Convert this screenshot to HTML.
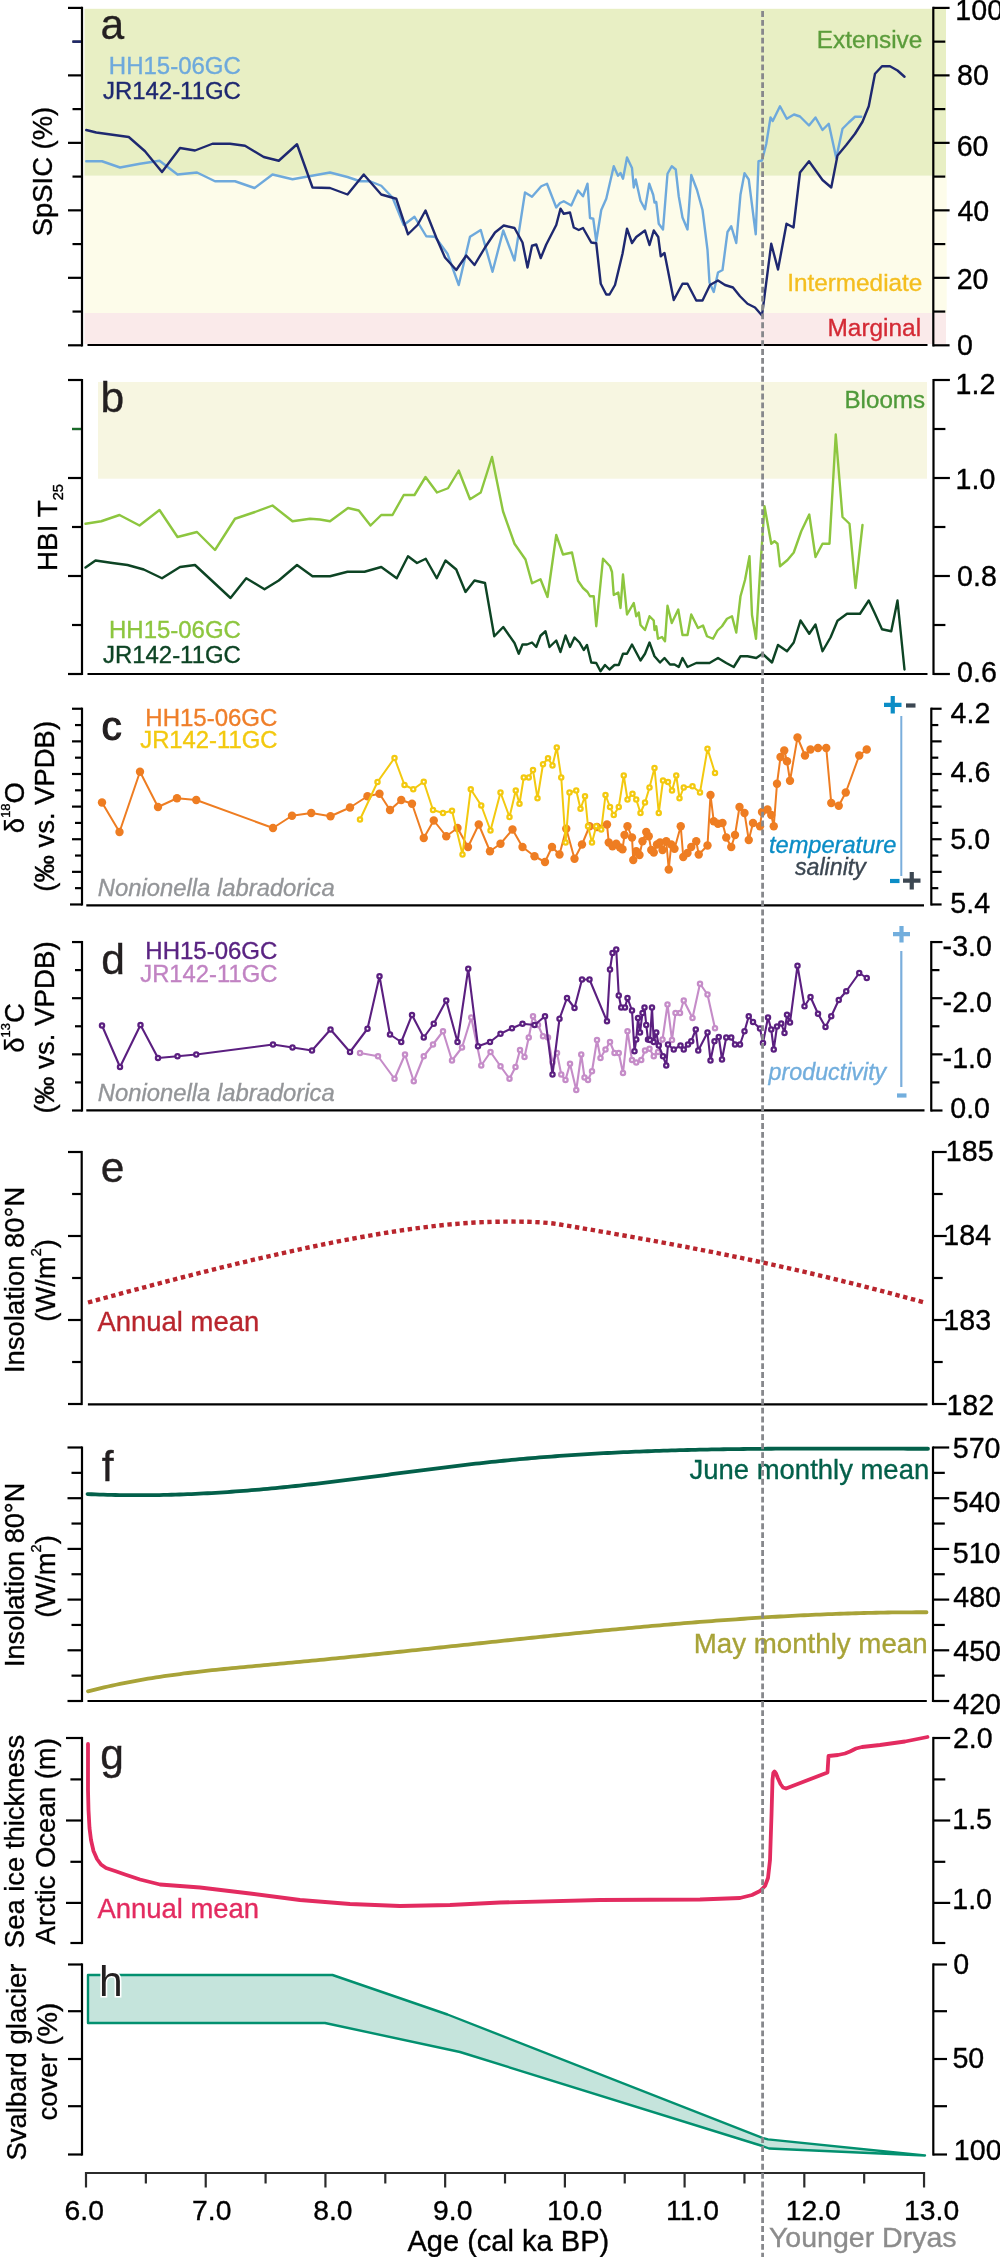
<!DOCTYPE html>
<html><head><meta charset="utf-8"><style>
html,body{margin:0;padding:0;background:#fff;}
svg{display:block;will-change:transform;}
</style></head><body>
<svg width="1000" height="2257" viewBox="0 0 1000 2257" font-family='"Liberation Sans", sans-serif'>
<rect width="1000" height="2257" fill="#fff"/>
<rect x="84.5" y="8.8" width="861.5" height="167" fill="#e8efc4"/>
<rect x="84.5" y="175.8" width="862.2" height="137.2" fill="#fdfcea"/>
<rect x="84.5" y="313" width="861.5" height="31" fill="#faeaea"/>
<line x1="82.00" y1="6.80" x2="82.00" y2="346.40" stroke="#000" stroke-width="2.2" />
<line x1="933.30" y1="6.80" x2="933.30" y2="346.40" stroke="#000" stroke-width="2.2" />
<line x1="68.00" y1="345.30" x2="82.00" y2="345.30" stroke="#000" stroke-width="2.2" />
<line x1="933.30" y1="345.30" x2="949.60" y2="345.30" stroke="#000" stroke-width="2.2" />
<line x1="72.50" y1="311.56" x2="82.00" y2="311.56" stroke="#000" stroke-width="2.2" />
<line x1="933.30" y1="311.56" x2="945.30" y2="311.56" stroke="#000" stroke-width="2.2" />
<line x1="68.00" y1="277.82" x2="82.00" y2="277.82" stroke="#000" stroke-width="2.2" />
<line x1="933.30" y1="277.82" x2="949.60" y2="277.82" stroke="#000" stroke-width="2.2" />
<line x1="72.50" y1="244.08" x2="82.00" y2="244.08" stroke="#000" stroke-width="2.2" />
<line x1="933.30" y1="244.08" x2="945.30" y2="244.08" stroke="#000" stroke-width="2.2" />
<line x1="68.00" y1="210.34" x2="82.00" y2="210.34" stroke="#000" stroke-width="2.2" />
<line x1="933.30" y1="210.34" x2="949.60" y2="210.34" stroke="#000" stroke-width="2.2" />
<line x1="72.50" y1="176.60" x2="82.00" y2="176.60" stroke="#000" stroke-width="2.2" />
<line x1="933.30" y1="176.60" x2="945.30" y2="176.60" stroke="#000" stroke-width="2.2" />
<line x1="68.00" y1="142.86" x2="82.00" y2="142.86" stroke="#000" stroke-width="2.2" />
<line x1="933.30" y1="142.86" x2="949.60" y2="142.86" stroke="#000" stroke-width="2.2" />
<line x1="72.50" y1="109.12" x2="82.00" y2="109.12" stroke="#000" stroke-width="2.2" />
<line x1="933.30" y1="109.12" x2="945.30" y2="109.12" stroke="#000" stroke-width="2.2" />
<line x1="68.00" y1="75.38" x2="82.00" y2="75.38" stroke="#000" stroke-width="2.2" />
<line x1="933.30" y1="75.38" x2="949.60" y2="75.38" stroke="#000" stroke-width="2.2" />
<line x1="72.50" y1="41.64" x2="82.00" y2="41.64" stroke="#000" stroke-width="2.2" />
<line x1="933.30" y1="41.64" x2="945.30" y2="41.64" stroke="#000" stroke-width="2.2" />
<line x1="68.00" y1="7.90" x2="82.00" y2="7.90" stroke="#000" stroke-width="2.2" />
<line x1="933.30" y1="7.90" x2="949.60" y2="7.90" stroke="#000" stroke-width="2.2" />
<line x1="72.40" y1="41.64" x2="80.90" y2="41.64" stroke="#1e2870" stroke-width="2.2" />
<line x1="87.50" y1="345.00" x2="927.50" y2="345.00" stroke="#000" stroke-width="2.2" />
<text x="955.36" y="19.73" font-size="28.60" stroke="#000" stroke-width="0.35">100</text>
<text x="957.03" y="84.93" font-size="28.60" stroke="#000" stroke-width="0.35">80</text>
<text x="956.67" y="155.63" font-size="28.60" stroke="#000" stroke-width="0.35">60</text>
<text x="957.46" y="220.83" font-size="28.60" stroke="#000" stroke-width="0.35">40</text>
<text x="956.67" y="289.13" font-size="28.60" stroke="#000" stroke-width="0.35">20</text>
<text x="956.96" y="355.13" font-size="28.60" stroke="#000" stroke-width="0.35">0</text>
<text x="100.39" y="39.24" font-size="42.50" fill="#231f20"   stroke="#231f20" stroke-width="0.35">a</text>
<text x="108.82" y="73.74" font-size="24.00" fill="#6ea9dc"   stroke="#6ea9dc" stroke-width="0.35">HH15-06GC</text>
<text x="102.94" y="99.30" font-size="23.94" fill="#1e2870"   stroke="#1e2870" stroke-width="0.35">JR142-11GC</text>
<text x="816.74" y="47.65" font-size="24.35" fill="#5b9c3b"   stroke="#5b9c3b" stroke-width="0.35">Extensive</text>
<text x="787.25" y="291.37" font-size="24.30" fill="#f4be1f"   stroke="#f4be1f" stroke-width="0.35">Intermediate</text>
<text x="827.49" y="336.21" font-size="24.42" fill="#d42a35"   stroke="#d42a35" stroke-width="0.35">Marginal</text>
<text transform="translate(52.20,236.23) rotate(-90)" font-size="27.40" fill="#000" stroke="#000" stroke-width="0.35" >SpSIC (%)</text>
<polyline points="86.25,161.25 102,161.25 120,167.50 140,163.75 159.50,160.75 177.50,174.50 197,172.50 215,181.25 235,181.25 254.50,188 272.50,174.50 292.50,179.25 330,172.50 347.50,177 360,181.25 370,181.25 381.25,185.75 392.50,197.50 403.75,225 414.50,216.75 426.25,236.25 435,236.75 447.50,253.75 458.75,285 470,236.75 480.75,230 492.50,271.75 503.25,230.50 514.50,260.50 525,192.50 532,196.75 541.25,186.25 547,183.75 556.25,207.50 560,203 563.75,201.25 571.25,205.50 578,190.50 583,196.25 587.50,183.75 590,218 593.25,218.75 596.25,241.25 601.25,210 606.25,198.75 613.75,166.25 618,175.75 620.50,173 623,178.75 627,157.50 632,168 633.75,187.50 635.75,179.50 640.50,200.75 645,209.25 649.25,183.75 653.25,195 654.50,202.50 656.25,202 658.75,223.75 663,229.50 667.50,173.75 671.75,166.25 675.75,169.50 678.75,196.25 682.50,217.50 687.50,229.50 691.25,175 697,190 702.50,210 707.50,250 709.50,282.50 713.75,292 718,272.50 722.50,270 727.50,232 731.25,226.25 736.25,243 740.50,194.50 744.50,173.25 748.75,179.50 755.75,234.25 758.50,161.25 762,160.50 766.25,144 770.50,117.50 772.75,121 780,106.25 786.75,118.75 794,114.50 800,116.50 809,125.50 815.50,117.50 822.50,130 828.75,123.75 836.25,158 842.50,128.75 848.75,122.50 855,116.75 861.25,116.75" fill="none" stroke="#6ea9dc" stroke-width="2.4" stroke-linejoin="round" stroke-linecap="round" />
<polyline points="86.25,130 96.25,132.50 128.75,137 145,151.25 162,172 180,148 195,150.50 212.50,143.75 230,143.75 245,145.75 263.75,157 278.75,160.75 297,144.25 312.50,187.50 330,188 347.50,194.50 363.75,174.50 381.25,194.50 396.25,198.75 408,234.25 417.50,225 425.50,210.50 436.25,237.50 445,257.50 456.25,270 466.25,255.50 474.50,265 485,247.50 495,232.50 503.75,225.50 514.50,228 522.50,242.50 527.50,267.50 532,245.75 536.25,244.50 540.75,258 546.25,244.50 556.25,225 560.50,208.75 563.75,213.75 570,212.50 573.75,227.50 578.75,230 583,228 591.25,242.50 596.25,243.25 600.75,283.75 606.25,294.50 609.50,294.50 615,285 622.50,253.75 627,228.75 632,243 636.25,237 645,230.50 649.50,245 653.75,230.50 658.25,237 660.75,256.25 664.50,253 673.75,300 682.50,283.75 687.50,283.75 696.25,300.50 702.50,300.50 710,285 718,280.50 725,285 733,287.50 740,296.25 747.50,303.75 755,307.50 762,315.50 771.25,243.75 778,269.50 786.50,223.75 793.50,227.50 800,172.50 809,161.25 822.50,180 831.25,187.50 837.50,155.50 846.25,145 855,133.75 862.50,121.75 868.75,106.25 875,73.75 882,66.25 890,66.25 897.50,70.50 904.50,76.75" fill="none" stroke="#1e2870" stroke-width="2.4" stroke-linejoin="round" stroke-linecap="round" />
<rect x="98" y="382" width="829" height="96.7" fill="#f7f6e1"/>
<line x1="82.00" y1="378.90" x2="82.00" y2="675.10" stroke="#000" stroke-width="2.2" />
<line x1="933.50" y1="378.90" x2="933.50" y2="675.10" stroke="#000" stroke-width="2.2" />
<line x1="68.00" y1="674.00" x2="82.00" y2="674.00" stroke="#000" stroke-width="2.2" />
<line x1="933.50" y1="674.00" x2="949.90" y2="674.00" stroke="#000" stroke-width="2.2" />
<line x1="72.00" y1="625.00" x2="82.00" y2="625.00" stroke="#000" stroke-width="2.2" />
<line x1="933.50" y1="625.00" x2="945.40" y2="625.00" stroke="#000" stroke-width="2.2" />
<line x1="68.00" y1="576.00" x2="82.00" y2="576.00" stroke="#000" stroke-width="2.2" />
<line x1="933.50" y1="576.00" x2="949.90" y2="576.00" stroke="#000" stroke-width="2.2" />
<line x1="72.00" y1="527.00" x2="82.00" y2="527.00" stroke="#000" stroke-width="2.2" />
<line x1="933.50" y1="527.00" x2="945.40" y2="527.00" stroke="#000" stroke-width="2.2" />
<line x1="68.00" y1="478.00" x2="82.00" y2="478.00" stroke="#000" stroke-width="2.2" />
<line x1="933.50" y1="478.00" x2="949.90" y2="478.00" stroke="#000" stroke-width="2.2" />
<line x1="72.00" y1="429.00" x2="82.00" y2="429.00" stroke="#000" stroke-width="2.2" />
<line x1="933.50" y1="429.00" x2="945.40" y2="429.00" stroke="#000" stroke-width="2.2" />
<line x1="68.00" y1="380.00" x2="82.00" y2="380.00" stroke="#000" stroke-width="2.2" />
<line x1="933.50" y1="380.00" x2="949.90" y2="380.00" stroke="#000" stroke-width="2.2" />
<line x1="72.00" y1="429.00" x2="80.90" y2="429.00" stroke="#1a6b2a" stroke-width="2.2" />
<line x1="87.50" y1="674.00" x2="927.50" y2="674.00" stroke="#000" stroke-width="2.2" />
<text x="955.56" y="393.97" font-size="28.60" stroke="#000" stroke-width="0.35">1.2</text>
<text x="955.56" y="488.73" font-size="28.60" stroke="#000" stroke-width="0.35">1.0</text>
<text x="957.06" y="586.23" font-size="28.60" stroke="#000" stroke-width="0.35">0.8</text>
<text x="957.06" y="682.33" font-size="28.60" stroke="#000" stroke-width="0.35">0.6</text>
<text x="100.44" y="411.81" font-size="42.50" fill="#231f20"   stroke="#231f20" stroke-width="0.35">b</text>
<text x="844.51" y="407.81" font-size="24.15" fill="#4f9a3a"   stroke="#4f9a3a" stroke-width="0.35">Blooms</text>
<text x="109.02" y="637.92" font-size="23.97" fill="#8dc63f"   stroke="#8dc63f" stroke-width="0.35">HH15-06GC</text>
<text x="102.94" y="663.10" font-size="23.94" fill="#0d4424"   stroke="#0d4424" stroke-width="0.35">JR142-11GC</text>
<text transform="translate(57.40,571.10) rotate(-90)" font-size="27.90" fill="#000" stroke="#000" stroke-width="0.35" >HBI T<tspan font-size="14.6" dy="5.5">25</tspan></text>
<polyline points="85.50,523.75 101.25,521.25 119.50,515 139.50,525.50 159.50,510 177.50,537 197,532 215,550 235,518.75 255,512 272.50,505.50 292.50,521.25 310,518.75 320,519.50 330,521.25 348,508 358.75,510.50 370.50,525.50 381.25,515 392.50,515 403.75,495 414.50,495 425.50,477 437,492.50 448,488.25 458.75,470.50 470,499.25 480.75,492.50 492,457 503,511.25 514.50,543.75 525.50,559.50 532,583.25 540.50,579.25 547.50,597 556.25,535 563,554.50 572,552.50 578,580.75 583,588 587.50,592 590,596.25 593.75,596.25 596.25,626.25 603,558.75 610,566.25 612,572 613.75,595 618.25,592.50 620.50,608 623,574.50 627,614.50 633.75,603 636.25,616.25 638.75,612.50 640.50,625 645,630 649.50,616.25 653.75,620.50 654.50,630 656.25,626.25 658,638.75 662,637 665,641.25 667.50,605.75 671.75,623 678.25,609.50 682.50,635 687.50,635 691.25,614.50 698,628 703,625.50 707,636.25 713,638.75 717.50,630.50 722,626.25 727,618.75 732,616.25 736.25,632.50 740.50,596.25 745,580 749.50,556.25 752,615 756,638.75 760,572.50 764.50,506.25 771.25,543.75 774.50,541.25 777.50,543.75 780,566.25 787.50,560 793.75,552.50 801.25,531.25 809.25,514.50 815.50,557 822.50,543.75 829.50,543.75 835.75,434.50 842.50,517 849.50,523.75 855.50,588 862.50,525" fill="none" stroke="#8dc63f" stroke-width="2.4" stroke-linejoin="round" stroke-linecap="round" />
<polyline points="85.50,567.50 95.50,560.50 112.50,563 127.50,565 143.75,569.50 162,578.25 180,567 195,565 212.50,581.25 230.50,598 246.25,578.25 264.50,589.25 278.75,580.50 297,565 312.50,576.25 330,576.25 347.50,571.75 364.50,571.75 381.25,567 396.75,578.25 408,556.25 417,563 425.75,558.75 436.75,578.25 445.50,560.50 456.25,569.50 465.50,592 474.50,580.50 485,583 494.25,636.25 503.25,627 514.50,643 518.75,653.75 522.50,644.50 527,644.50 532,642.50 536.25,647 540.50,635.75 545.50,631.25 549.50,647 556.25,640.50 560.50,652 565.50,635.50 570,647 574.50,637.50 579.50,642.50 583.75,650 587,645 591.25,662.50 596.25,663 600.50,671.25 605,665 609.50,669.50 614.50,665 618.75,665 623,653.75 627,653.75 632,644.50 640.50,660.50 645,653.75 649.50,642.50 654.50,656.25 660,662.50 664.50,658 670,664.50 674.50,664.50 678.75,667 682.50,658 687.50,667 696.25,663 709.50,663 718,658 726.25,663 733.75,667 740.50,656.25 747.50,656.25 756.25,658 762.50,653.75 772,662.50 778,645 787,651.25 793.75,642.50 800.50,620.50 809.25,633.75 815.50,624.50 822.50,651.25 830.50,637.50 837.50,620.75 847,613.75 860,613.75 868.75,600.50 875,613.75 882,629.25 891.25,631.25 897.50,600.50 904.50,669.50" fill="none" stroke="#0d4424" stroke-width="2.4" stroke-linejoin="round" stroke-linecap="round" />
<line x1="82.00" y1="707.65" x2="82.00" y2="905.57" stroke="#000" stroke-width="2.2" />
<line x1="931.30" y1="707.65" x2="931.30" y2="905.57" stroke="#000" stroke-width="2.2" />
<line x1="72.00" y1="708.75" x2="82.00" y2="708.75" stroke="#000" stroke-width="2.2" />
<line x1="931.30" y1="708.75" x2="941.60" y2="708.75" stroke="#000" stroke-width="2.2" />
<line x1="75.00" y1="725.06" x2="82.00" y2="725.06" stroke="#000" stroke-width="2.2" />
<line x1="931.30" y1="725.06" x2="938.30" y2="725.06" stroke="#000" stroke-width="2.2" />
<line x1="72.00" y1="741.37" x2="82.00" y2="741.37" stroke="#000" stroke-width="2.2" />
<line x1="931.30" y1="741.37" x2="941.60" y2="741.37" stroke="#000" stroke-width="2.2" />
<line x1="75.00" y1="757.68" x2="82.00" y2="757.68" stroke="#000" stroke-width="2.2" />
<line x1="931.30" y1="757.68" x2="938.30" y2="757.68" stroke="#000" stroke-width="2.2" />
<line x1="72.00" y1="773.99" x2="82.00" y2="773.99" stroke="#000" stroke-width="2.2" />
<line x1="931.30" y1="773.99" x2="941.60" y2="773.99" stroke="#000" stroke-width="2.2" />
<line x1="75.00" y1="790.30" x2="82.00" y2="790.30" stroke="#000" stroke-width="2.2" />
<line x1="931.30" y1="790.30" x2="938.30" y2="790.30" stroke="#000" stroke-width="2.2" />
<line x1="72.00" y1="806.61" x2="82.00" y2="806.61" stroke="#000" stroke-width="2.2" />
<line x1="931.30" y1="806.61" x2="941.60" y2="806.61" stroke="#000" stroke-width="2.2" />
<line x1="75.00" y1="822.92" x2="82.00" y2="822.92" stroke="#000" stroke-width="2.2" />
<line x1="931.30" y1="822.92" x2="938.30" y2="822.92" stroke="#000" stroke-width="2.2" />
<line x1="72.00" y1="839.23" x2="82.00" y2="839.23" stroke="#000" stroke-width="2.2" />
<line x1="931.30" y1="839.23" x2="941.60" y2="839.23" stroke="#000" stroke-width="2.2" />
<line x1="75.00" y1="855.54" x2="82.00" y2="855.54" stroke="#000" stroke-width="2.2" />
<line x1="931.30" y1="855.54" x2="938.30" y2="855.54" stroke="#000" stroke-width="2.2" />
<line x1="72.00" y1="871.85" x2="82.00" y2="871.85" stroke="#000" stroke-width="2.2" />
<line x1="931.30" y1="871.85" x2="941.60" y2="871.85" stroke="#000" stroke-width="2.2" />
<line x1="75.00" y1="888.16" x2="82.00" y2="888.16" stroke="#000" stroke-width="2.2" />
<line x1="931.30" y1="888.16" x2="938.30" y2="888.16" stroke="#000" stroke-width="2.2" />
<line x1="70.00" y1="904.47" x2="82.00" y2="904.47" stroke="#000" stroke-width="2.2" />
<line x1="931.30" y1="904.47" x2="941.60" y2="904.47" stroke="#000" stroke-width="2.2" />
<line x1="86.30" y1="905.30" x2="924.00" y2="905.30" stroke="#000" stroke-width="2.2" />
<text x="950.56" y="723.27" font-size="28.60" stroke="#000" stroke-width="0.35">4.2</text>
<text x="950.56" y="782.33" font-size="28.60" stroke="#000" stroke-width="0.35">4.6</text>
<text x="950.36" y="849.13" font-size="28.60" stroke="#000" stroke-width="0.35">5.0</text>
<text x="950.36" y="912.59" font-size="28.60" stroke="#000" stroke-width="0.35">5.4</text>
<text x="101.38" y="739.67" font-size="40.50" fill="#231f20"  stroke="#231f20" stroke-width="1.1">c</text>
<text x="145.32" y="726.49" font-size="24.00" fill="#ef7f2a"   stroke="#ef7f2a" stroke-width="0.35">HH15-06GC</text>
<text x="140.24" y="748.20" font-size="23.80" fill="#f3c90f"   stroke="#f3c90f" stroke-width="0.35">JR142-11GC</text>
<text x="97.79" y="896.02" font-size="23.82" fill="#939598" font-style="italic"  stroke="#939598" stroke-width="0.35">Nonionella labradorica</text>
<text transform="translate(23.90,833.17) rotate(-90)" font-size="27.50" fill="#000" stroke="#000" stroke-width="0.35" >δ<tspan font-size="13" dy="-14">18</tspan><tspan dy="14">O</tspan></text>
<text transform="translate(54.20,891.72) rotate(-90)" font-size="27.44" fill="#000" stroke="#000" stroke-width="0.35" >(‰ vs. VPDB)</text>
<text x="768.94" y="852.74" font-size="23.63" fill="#0b8dc6" font-style="italic"  stroke="#0b8dc6" stroke-width="0.35">temperature</text>
<text x="794.94" y="874.81" font-size="23.19" fill="#3c4752" font-style="italic"  stroke="#3c4752" stroke-width="0.35">salinity</text>
<line x1="901.30" y1="716.00" x2="901.30" y2="876.00" stroke="#7aaedc" stroke-width="2" />
<path d="M884 704.8 H901.5 M892.75 696 V713.6" stroke="#0b8dc6" stroke-width="4.2"/>
<path d="M906 705.5 H915.5" stroke="#3c4752" stroke-width="4.2"/>
<path d="M890 881 H899.5" stroke="#0b8dc6" stroke-width="4.2"/>
<path d="M903 880.7 H920.5 M911.75 872 V889.5" stroke="#3c4752" stroke-width="4.2"/>
<polyline points="102,802.50 119.50,832 140,771.75 158,807 177,798.25 196.25,800 273,828 292,815.75 311.25,813 330.50,816.25 350,807.50 367.50,796.25 379.50,793.75 390,810 401.25,800 412,803.75 423.75,838 433.75,820.50 446.25,836.25 457.50,828 468,847 478.75,824.50 490,851.25 500.50,843.75 512.50,829.50 522.50,847 534.50,856.25 545,862 552,847 559.50,854.50 566.25,828.75 574.50,858.75 582,844.50 589.50,826.25 597,827 607,824.50 608.75,842.50 612.50,846.25 616.25,843.75 620,847.50 622.50,849.25 624.50,835 627.50,826.25 632,837.50 633.25,860 636.25,851.25 639.50,855 642.50,841.25 646.25,832 648.75,836.25 651.25,850 653.75,852.50 657,844.50 660,842.50 662.50,850 666.25,841.25 668.75,869.50 671.25,844.50 674.50,848.75 680.75,826.25 683.25,857 687.50,853 691.25,847 696.25,841.25 698.75,854.50 707.50,845.50 710.50,795 713.75,821.25 718,823.75 722.50,823 726.25,837.50 731.25,847 735,835 739.50,807 744.50,813 748.75,840 753,823 760,826.25 762,812 767.50,809.50 771.25,815 773.75,826.25 777,783.75 780.50,757 784.25,750.50 787,761.25 790,780.75 797.50,737.50 805,755.50 810.50,749.50 818,748 826.25,748 831.25,803 838.75,805.75 845.75,792.50 859.25,755.50 866.75,749.50" fill="none" stroke="#ee7d22" stroke-width="2" stroke-linejoin="round" stroke-linecap="round" />
<circle cx="102" cy="802.5" r="4.2" fill="#ee7d22"/>
<circle cx="119.5" cy="832" r="4.2" fill="#ee7d22"/>
<circle cx="140" cy="771.75" r="4.2" fill="#ee7d22"/>
<circle cx="158" cy="807" r="4.2" fill="#ee7d22"/>
<circle cx="177" cy="798.25" r="4.2" fill="#ee7d22"/>
<circle cx="196.25" cy="800" r="4.2" fill="#ee7d22"/>
<circle cx="273" cy="828" r="4.2" fill="#ee7d22"/>
<circle cx="292" cy="815.75" r="4.2" fill="#ee7d22"/>
<circle cx="311.25" cy="813" r="4.2" fill="#ee7d22"/>
<circle cx="330.5" cy="816.25" r="4.2" fill="#ee7d22"/>
<circle cx="350" cy="807.5" r="4.2" fill="#ee7d22"/>
<circle cx="367.5" cy="796.25" r="4.2" fill="#ee7d22"/>
<circle cx="379.5" cy="793.75" r="4.2" fill="#ee7d22"/>
<circle cx="390" cy="810" r="4.2" fill="#ee7d22"/>
<circle cx="401.25" cy="800" r="4.2" fill="#ee7d22"/>
<circle cx="412" cy="803.75" r="4.2" fill="#ee7d22"/>
<circle cx="423.75" cy="838" r="4.2" fill="#ee7d22"/>
<circle cx="433.75" cy="820.5" r="4.2" fill="#ee7d22"/>
<circle cx="446.25" cy="836.25" r="4.2" fill="#ee7d22"/>
<circle cx="457.5" cy="828" r="4.2" fill="#ee7d22"/>
<circle cx="468" cy="847" r="4.2" fill="#ee7d22"/>
<circle cx="478.75" cy="824.5" r="4.2" fill="#ee7d22"/>
<circle cx="490" cy="851.25" r="4.2" fill="#ee7d22"/>
<circle cx="500.5" cy="843.75" r="4.2" fill="#ee7d22"/>
<circle cx="512.5" cy="829.5" r="4.2" fill="#ee7d22"/>
<circle cx="522.5" cy="847" r="4.2" fill="#ee7d22"/>
<circle cx="534.5" cy="856.25" r="4.2" fill="#ee7d22"/>
<circle cx="545" cy="862" r="4.2" fill="#ee7d22"/>
<circle cx="552" cy="847" r="4.2" fill="#ee7d22"/>
<circle cx="559.5" cy="854.5" r="4.2" fill="#ee7d22"/>
<circle cx="566.25" cy="828.75" r="4.2" fill="#ee7d22"/>
<circle cx="574.5" cy="858.75" r="4.2" fill="#ee7d22"/>
<circle cx="582" cy="844.5" r="4.2" fill="#ee7d22"/>
<circle cx="589.5" cy="826.25" r="4.2" fill="#ee7d22"/>
<circle cx="597" cy="827" r="4.2" fill="#ee7d22"/>
<circle cx="607" cy="824.5" r="4.2" fill="#ee7d22"/>
<circle cx="608.75" cy="842.5" r="4.2" fill="#ee7d22"/>
<circle cx="612.5" cy="846.25" r="4.2" fill="#ee7d22"/>
<circle cx="616.25" cy="843.75" r="4.2" fill="#ee7d22"/>
<circle cx="620" cy="847.5" r="4.2" fill="#ee7d22"/>
<circle cx="622.5" cy="849.25" r="4.2" fill="#ee7d22"/>
<circle cx="624.5" cy="835" r="4.2" fill="#ee7d22"/>
<circle cx="627.5" cy="826.25" r="4.2" fill="#ee7d22"/>
<circle cx="632" cy="837.5" r="4.2" fill="#ee7d22"/>
<circle cx="633.25" cy="860" r="4.2" fill="#ee7d22"/>
<circle cx="636.25" cy="851.25" r="4.2" fill="#ee7d22"/>
<circle cx="639.5" cy="855" r="4.2" fill="#ee7d22"/>
<circle cx="642.5" cy="841.25" r="4.2" fill="#ee7d22"/>
<circle cx="646.25" cy="832" r="4.2" fill="#ee7d22"/>
<circle cx="648.75" cy="836.25" r="4.2" fill="#ee7d22"/>
<circle cx="651.25" cy="850" r="4.2" fill="#ee7d22"/>
<circle cx="653.75" cy="852.5" r="4.2" fill="#ee7d22"/>
<circle cx="657" cy="844.5" r="4.2" fill="#ee7d22"/>
<circle cx="660" cy="842.5" r="4.2" fill="#ee7d22"/>
<circle cx="662.5" cy="850" r="4.2" fill="#ee7d22"/>
<circle cx="666.25" cy="841.25" r="4.2" fill="#ee7d22"/>
<circle cx="668.75" cy="869.5" r="4.2" fill="#ee7d22"/>
<circle cx="671.25" cy="844.5" r="4.2" fill="#ee7d22"/>
<circle cx="674.5" cy="848.75" r="4.2" fill="#ee7d22"/>
<circle cx="680.75" cy="826.25" r="4.2" fill="#ee7d22"/>
<circle cx="683.25" cy="857" r="4.2" fill="#ee7d22"/>
<circle cx="687.5" cy="853" r="4.2" fill="#ee7d22"/>
<circle cx="691.25" cy="847" r="4.2" fill="#ee7d22"/>
<circle cx="696.25" cy="841.25" r="4.2" fill="#ee7d22"/>
<circle cx="698.75" cy="854.5" r="4.2" fill="#ee7d22"/>
<circle cx="707.5" cy="845.5" r="4.2" fill="#ee7d22"/>
<circle cx="710.5" cy="795" r="4.2" fill="#ee7d22"/>
<circle cx="713.75" cy="821.25" r="4.2" fill="#ee7d22"/>
<circle cx="718" cy="823.75" r="4.2" fill="#ee7d22"/>
<circle cx="722.5" cy="823" r="4.2" fill="#ee7d22"/>
<circle cx="726.25" cy="837.5" r="4.2" fill="#ee7d22"/>
<circle cx="731.25" cy="847" r="4.2" fill="#ee7d22"/>
<circle cx="735" cy="835" r="4.2" fill="#ee7d22"/>
<circle cx="739.5" cy="807" r="4.2" fill="#ee7d22"/>
<circle cx="744.5" cy="813" r="4.2" fill="#ee7d22"/>
<circle cx="748.75" cy="840" r="4.2" fill="#ee7d22"/>
<circle cx="753" cy="823" r="4.2" fill="#ee7d22"/>
<circle cx="760" cy="826.25" r="4.2" fill="#ee7d22"/>
<circle cx="762" cy="812" r="4.2" fill="#ee7d22"/>
<circle cx="767.5" cy="809.5" r="4.2" fill="#ee7d22"/>
<circle cx="771.25" cy="815" r="4.2" fill="#ee7d22"/>
<circle cx="773.75" cy="826.25" r="4.2" fill="#ee7d22"/>
<circle cx="777" cy="783.75" r="4.2" fill="#ee7d22"/>
<circle cx="780.5" cy="757" r="4.2" fill="#ee7d22"/>
<circle cx="784.25" cy="750.5" r="4.2" fill="#ee7d22"/>
<circle cx="787" cy="761.25" r="4.2" fill="#ee7d22"/>
<circle cx="790" cy="780.75" r="4.2" fill="#ee7d22"/>
<circle cx="797.5" cy="737.5" r="4.2" fill="#ee7d22"/>
<circle cx="805" cy="755.5" r="4.2" fill="#ee7d22"/>
<circle cx="810.5" cy="749.5" r="4.2" fill="#ee7d22"/>
<circle cx="818" cy="748" r="4.2" fill="#ee7d22"/>
<circle cx="826.25" cy="748" r="4.2" fill="#ee7d22"/>
<circle cx="831.25" cy="803" r="4.2" fill="#ee7d22"/>
<circle cx="838.75" cy="805.75" r="4.2" fill="#ee7d22"/>
<circle cx="845.75" cy="792.5" r="4.2" fill="#ee7d22"/>
<circle cx="859.25" cy="755.5" r="4.2" fill="#ee7d22"/>
<circle cx="866.75" cy="749.5" r="4.2" fill="#ee7d22"/>
<polyline points="360,819.50 377.50,782 394.50,758 404.50,785 413.25,789.25 423.75,781.75 433,810 443,813 452,810.75 462.50,854.50 470.75,789.25 481.25,805.50 490.50,830.50 500.50,792.50 509.50,817 515.75,790.50 519.50,803.75 523.75,777.50 528.75,777.50 533,770 537.50,798.25 543,764.25 548,758.25 552.50,765.50 556.75,747.50 561.25,777.50 565.60,842.50 569.50,792.50 576.25,790.50 580.50,808.75 585,796.25 588,826.25 592,842.50 596.25,826.25 601.25,829.50 605.50,795 610,807 613.75,815 618.75,807 623.75,775.50 627.50,799.50 632.50,793.75 636.25,799.50 640.50,813 645,802.50 649.50,787.50 654.50,768 658.75,813 663,780.50 668,782 672,790.50 676.25,775.50 679.50,798.25 683.75,787.50 692.50,786.25 700,792.50 707.50,748.75 715,773" fill="none" stroke="#f3c90f" stroke-width="2" stroke-linejoin="round" stroke-linecap="round" />
<circle cx="360" cy="819.5" r="2.1" fill="#fff" stroke="#f3c90f" stroke-width="2.3"/>
<circle cx="377.5" cy="782" r="2.1" fill="#fff" stroke="#f3c90f" stroke-width="2.3"/>
<circle cx="394.5" cy="758" r="2.1" fill="#fff" stroke="#f3c90f" stroke-width="2.3"/>
<circle cx="404.5" cy="785" r="2.1" fill="#fff" stroke="#f3c90f" stroke-width="2.3"/>
<circle cx="413.25" cy="789.25" r="2.1" fill="#fff" stroke="#f3c90f" stroke-width="2.3"/>
<circle cx="423.75" cy="781.75" r="2.1" fill="#fff" stroke="#f3c90f" stroke-width="2.3"/>
<circle cx="433" cy="810" r="2.1" fill="#fff" stroke="#f3c90f" stroke-width="2.3"/>
<circle cx="443" cy="813" r="2.1" fill="#fff" stroke="#f3c90f" stroke-width="2.3"/>
<circle cx="452" cy="810.75" r="2.1" fill="#fff" stroke="#f3c90f" stroke-width="2.3"/>
<circle cx="462.5" cy="854.5" r="2.1" fill="#fff" stroke="#f3c90f" stroke-width="2.3"/>
<circle cx="470.75" cy="789.25" r="2.1" fill="#fff" stroke="#f3c90f" stroke-width="2.3"/>
<circle cx="481.25" cy="805.5" r="2.1" fill="#fff" stroke="#f3c90f" stroke-width="2.3"/>
<circle cx="490.5" cy="830.5" r="2.1" fill="#fff" stroke="#f3c90f" stroke-width="2.3"/>
<circle cx="500.5" cy="792.5" r="2.1" fill="#fff" stroke="#f3c90f" stroke-width="2.3"/>
<circle cx="509.5" cy="817" r="2.1" fill="#fff" stroke="#f3c90f" stroke-width="2.3"/>
<circle cx="515.75" cy="790.5" r="2.1" fill="#fff" stroke="#f3c90f" stroke-width="2.3"/>
<circle cx="519.5" cy="803.75" r="2.1" fill="#fff" stroke="#f3c90f" stroke-width="2.3"/>
<circle cx="523.75" cy="777.5" r="2.1" fill="#fff" stroke="#f3c90f" stroke-width="2.3"/>
<circle cx="528.75" cy="777.5" r="2.1" fill="#fff" stroke="#f3c90f" stroke-width="2.3"/>
<circle cx="533" cy="770" r="2.1" fill="#fff" stroke="#f3c90f" stroke-width="2.3"/>
<circle cx="537.5" cy="798.25" r="2.1" fill="#fff" stroke="#f3c90f" stroke-width="2.3"/>
<circle cx="543" cy="764.25" r="2.1" fill="#fff" stroke="#f3c90f" stroke-width="2.3"/>
<circle cx="548" cy="758.25" r="2.1" fill="#fff" stroke="#f3c90f" stroke-width="2.3"/>
<circle cx="552.5" cy="765.5" r="2.1" fill="#fff" stroke="#f3c90f" stroke-width="2.3"/>
<circle cx="556.75" cy="747.5" r="2.1" fill="#fff" stroke="#f3c90f" stroke-width="2.3"/>
<circle cx="561.25" cy="777.5" r="2.1" fill="#fff" stroke="#f3c90f" stroke-width="2.3"/>
<circle cx="565.6" cy="842.5" r="2.1" fill="#fff" stroke="#f3c90f" stroke-width="2.3"/>
<circle cx="569.5" cy="792.5" r="2.1" fill="#fff" stroke="#f3c90f" stroke-width="2.3"/>
<circle cx="576.25" cy="790.5" r="2.1" fill="#fff" stroke="#f3c90f" stroke-width="2.3"/>
<circle cx="580.5" cy="808.75" r="2.1" fill="#fff" stroke="#f3c90f" stroke-width="2.3"/>
<circle cx="585" cy="796.25" r="2.1" fill="#fff" stroke="#f3c90f" stroke-width="2.3"/>
<circle cx="588" cy="826.25" r="2.1" fill="#fff" stroke="#f3c90f" stroke-width="2.3"/>
<circle cx="592" cy="842.5" r="2.1" fill="#fff" stroke="#f3c90f" stroke-width="2.3"/>
<circle cx="596.25" cy="826.25" r="2.1" fill="#fff" stroke="#f3c90f" stroke-width="2.3"/>
<circle cx="601.25" cy="829.5" r="2.1" fill="#fff" stroke="#f3c90f" stroke-width="2.3"/>
<circle cx="605.5" cy="795" r="2.1" fill="#fff" stroke="#f3c90f" stroke-width="2.3"/>
<circle cx="610" cy="807" r="2.1" fill="#fff" stroke="#f3c90f" stroke-width="2.3"/>
<circle cx="613.75" cy="815" r="2.1" fill="#fff" stroke="#f3c90f" stroke-width="2.3"/>
<circle cx="618.75" cy="807" r="2.1" fill="#fff" stroke="#f3c90f" stroke-width="2.3"/>
<circle cx="623.75" cy="775.5" r="2.1" fill="#fff" stroke="#f3c90f" stroke-width="2.3"/>
<circle cx="627.5" cy="799.5" r="2.1" fill="#fff" stroke="#f3c90f" stroke-width="2.3"/>
<circle cx="632.5" cy="793.75" r="2.1" fill="#fff" stroke="#f3c90f" stroke-width="2.3"/>
<circle cx="636.25" cy="799.5" r="2.1" fill="#fff" stroke="#f3c90f" stroke-width="2.3"/>
<circle cx="640.5" cy="813" r="2.1" fill="#fff" stroke="#f3c90f" stroke-width="2.3"/>
<circle cx="645" cy="802.5" r="2.1" fill="#fff" stroke="#f3c90f" stroke-width="2.3"/>
<circle cx="649.5" cy="787.5" r="2.1" fill="#fff" stroke="#f3c90f" stroke-width="2.3"/>
<circle cx="654.5" cy="768" r="2.1" fill="#fff" stroke="#f3c90f" stroke-width="2.3"/>
<circle cx="658.75" cy="813" r="2.1" fill="#fff" stroke="#f3c90f" stroke-width="2.3"/>
<circle cx="663" cy="780.5" r="2.1" fill="#fff" stroke="#f3c90f" stroke-width="2.3"/>
<circle cx="668" cy="782" r="2.1" fill="#fff" stroke="#f3c90f" stroke-width="2.3"/>
<circle cx="672" cy="790.5" r="2.1" fill="#fff" stroke="#f3c90f" stroke-width="2.3"/>
<circle cx="676.25" cy="775.5" r="2.1" fill="#fff" stroke="#f3c90f" stroke-width="2.3"/>
<circle cx="679.5" cy="798.25" r="2.1" fill="#fff" stroke="#f3c90f" stroke-width="2.3"/>
<circle cx="683.75" cy="787.5" r="2.1" fill="#fff" stroke="#f3c90f" stroke-width="2.3"/>
<circle cx="692.5" cy="786.25" r="2.1" fill="#fff" stroke="#f3c90f" stroke-width="2.3"/>
<circle cx="700" cy="792.5" r="2.1" fill="#fff" stroke="#f3c90f" stroke-width="2.3"/>
<circle cx="707.5" cy="748.75" r="2.1" fill="#fff" stroke="#f3c90f" stroke-width="2.3"/>
<circle cx="715" cy="773" r="2.1" fill="#fff" stroke="#f3c90f" stroke-width="2.3"/>
<line x1="82.00" y1="940.95" x2="82.00" y2="1111.60" stroke="#000" stroke-width="2.2" />
<line x1="931.25" y1="940.95" x2="931.25" y2="1111.60" stroke="#000" stroke-width="2.2" />
<line x1="72.00" y1="942.05" x2="82.00" y2="942.05" stroke="#000" stroke-width="2.2" />
<line x1="931.25" y1="942.05" x2="942.50" y2="942.05" stroke="#000" stroke-width="2.2" />
<line x1="75.00" y1="970.12" x2="82.00" y2="970.12" stroke="#000" stroke-width="2.2" />
<line x1="931.25" y1="970.12" x2="939.45" y2="970.12" stroke="#000" stroke-width="2.2" />
<line x1="72.00" y1="998.20" x2="82.00" y2="998.20" stroke="#000" stroke-width="2.2" />
<line x1="931.25" y1="998.20" x2="942.50" y2="998.20" stroke="#000" stroke-width="2.2" />
<line x1="75.00" y1="1026.28" x2="82.00" y2="1026.28" stroke="#000" stroke-width="2.2" />
<line x1="931.25" y1="1026.28" x2="939.45" y2="1026.28" stroke="#000" stroke-width="2.2" />
<line x1="72.00" y1="1054.35" x2="82.00" y2="1054.35" stroke="#000" stroke-width="2.2" />
<line x1="931.25" y1="1054.35" x2="942.50" y2="1054.35" stroke="#000" stroke-width="2.2" />
<line x1="75.00" y1="1082.42" x2="82.00" y2="1082.42" stroke="#000" stroke-width="2.2" />
<line x1="931.25" y1="1082.42" x2="939.45" y2="1082.42" stroke="#000" stroke-width="2.2" />
<line x1="72.00" y1="1110.50" x2="82.00" y2="1110.50" stroke="#000" stroke-width="2.2" />
<line x1="931.25" y1="1110.50" x2="942.50" y2="1110.50" stroke="#000" stroke-width="2.2" />
<line x1="86.30" y1="1110.40" x2="924.50" y2="1110.40" stroke="#000" stroke-width="2.2" />
<text x="942.61" y="956.23" font-size="28.60" stroke="#000" stroke-width="0.35">-3.0</text>
<text x="942.61" y="1012.13" font-size="28.60" stroke="#000" stroke-width="0.35">-2.0</text>
<text x="942.61" y="1067.73" font-size="28.60" stroke="#000" stroke-width="0.35">-1.0</text>
<text x="950.26" y="1118.23" font-size="28.60" stroke="#000" stroke-width="0.35">0.0</text>
<text x="101.19" y="973.81" font-size="42.50" fill="#231f20"   stroke="#231f20" stroke-width="0.35">d</text>
<text x="145.32" y="959.24" font-size="24.00" fill="#5a2382"   stroke="#5a2382" stroke-width="0.35">HH15-06GC</text>
<text x="140.24" y="981.60" font-size="23.80" fill="#c183c3"   stroke="#c183c3" stroke-width="0.35">JR142-11GC</text>
<text x="97.79" y="1101.02" font-size="23.82" fill="#939598" font-style="italic"  stroke="#939598" stroke-width="0.35">Nonionella labradorica</text>
<text transform="translate(24.00,1052.77) rotate(-90)" font-size="27.50" fill="#000" stroke="#000" stroke-width="0.35" >δ<tspan font-size="13" dy="-14">13</tspan><tspan dy="14">C</tspan></text>
<text transform="translate(54.30,1113.43) rotate(-90)" font-size="27.66" fill="#000" stroke="#000" stroke-width="0.35" >(‰ vs. VPDB)</text>
<text x="768.58" y="1079.88" font-size="23.28" fill="#72aedd" font-style="italic"  stroke="#72aedd" stroke-width="0.35">productivity</text>
<line x1="901.30" y1="951.00" x2="901.30" y2="1087.00" stroke="#7aaedc" stroke-width="2.2" />
<path d="M893 934.2 H910 M901.5 926 V942.5" stroke="#72aedd" stroke-width="4.2"/>
<path d="M897 1095.5 H906.5" stroke="#72aedd" stroke-width="4.2"/>
<polyline points="360,1053 378,1056.25 394.50,1078.75 405,1054.50 413.75,1081.25 423.75,1056.25 433,1044.50 443,1031.25 452,1060.50 462,1047.50 471.25,1017.50 481.25,1065.50 490.50,1052 500.50,1066.25 509.50,1078.75 515.50,1067 520,1050 524.50,1057 528.75,1037.50 533,1016.25 538,1025 543,1036.25 548,1037.50 552.50,1062.50 557,1053 561.25,1074.50 565.50,1080 570,1063.75 576.25,1090 581.25,1054.50 584.50,1077.50 588,1080 592,1071.25 597,1040 600.50,1058 605.50,1049.50 610,1042 614.50,1053 618.75,1053 623,1073 627.50,1031.25 632,1060 636.25,1062.50 641.25,1060 645,1050.50 649.50,1048.75 653.75,1056.25 658,1052 662.50,1039.50 667.50,1004.50 672,1040 675.50,1013 680,1013 683.75,1000.50 692.50,1018 700,983.75 707.50,994.50 715,1028.25" fill="none" stroke="#c58cc8" stroke-width="2.1" stroke-linejoin="round" stroke-linecap="round" />
<circle cx="360" cy="1053" r="2.1" fill="#fff" stroke="#c58cc8" stroke-width="2.3"/>
<circle cx="378" cy="1056.25" r="2.1" fill="#fff" stroke="#c58cc8" stroke-width="2.3"/>
<circle cx="394.5" cy="1078.75" r="2.1" fill="#fff" stroke="#c58cc8" stroke-width="2.3"/>
<circle cx="405" cy="1054.5" r="2.1" fill="#fff" stroke="#c58cc8" stroke-width="2.3"/>
<circle cx="413.75" cy="1081.25" r="2.1" fill="#fff" stroke="#c58cc8" stroke-width="2.3"/>
<circle cx="423.75" cy="1056.25" r="2.1" fill="#fff" stroke="#c58cc8" stroke-width="2.3"/>
<circle cx="433" cy="1044.5" r="2.1" fill="#fff" stroke="#c58cc8" stroke-width="2.3"/>
<circle cx="443" cy="1031.25" r="2.1" fill="#fff" stroke="#c58cc8" stroke-width="2.3"/>
<circle cx="452" cy="1060.5" r="2.1" fill="#fff" stroke="#c58cc8" stroke-width="2.3"/>
<circle cx="462" cy="1047.5" r="2.1" fill="#fff" stroke="#c58cc8" stroke-width="2.3"/>
<circle cx="471.25" cy="1017.5" r="2.1" fill="#fff" stroke="#c58cc8" stroke-width="2.3"/>
<circle cx="481.25" cy="1065.5" r="2.1" fill="#fff" stroke="#c58cc8" stroke-width="2.3"/>
<circle cx="490.5" cy="1052" r="2.1" fill="#fff" stroke="#c58cc8" stroke-width="2.3"/>
<circle cx="500.5" cy="1066.25" r="2.1" fill="#fff" stroke="#c58cc8" stroke-width="2.3"/>
<circle cx="509.5" cy="1078.75" r="2.1" fill="#fff" stroke="#c58cc8" stroke-width="2.3"/>
<circle cx="515.5" cy="1067" r="2.1" fill="#fff" stroke="#c58cc8" stroke-width="2.3"/>
<circle cx="520" cy="1050" r="2.1" fill="#fff" stroke="#c58cc8" stroke-width="2.3"/>
<circle cx="524.5" cy="1057" r="2.1" fill="#fff" stroke="#c58cc8" stroke-width="2.3"/>
<circle cx="528.75" cy="1037.5" r="2.1" fill="#fff" stroke="#c58cc8" stroke-width="2.3"/>
<circle cx="533" cy="1016.25" r="2.1" fill="#fff" stroke="#c58cc8" stroke-width="2.3"/>
<circle cx="538" cy="1025" r="2.1" fill="#fff" stroke="#c58cc8" stroke-width="2.3"/>
<circle cx="543" cy="1036.25" r="2.1" fill="#fff" stroke="#c58cc8" stroke-width="2.3"/>
<circle cx="548" cy="1037.5" r="2.1" fill="#fff" stroke="#c58cc8" stroke-width="2.3"/>
<circle cx="552.5" cy="1062.5" r="2.1" fill="#fff" stroke="#c58cc8" stroke-width="2.3"/>
<circle cx="557" cy="1053" r="2.1" fill="#fff" stroke="#c58cc8" stroke-width="2.3"/>
<circle cx="561.25" cy="1074.5" r="2.1" fill="#fff" stroke="#c58cc8" stroke-width="2.3"/>
<circle cx="565.5" cy="1080" r="2.1" fill="#fff" stroke="#c58cc8" stroke-width="2.3"/>
<circle cx="570" cy="1063.75" r="2.1" fill="#fff" stroke="#c58cc8" stroke-width="2.3"/>
<circle cx="576.25" cy="1090" r="2.1" fill="#fff" stroke="#c58cc8" stroke-width="2.3"/>
<circle cx="581.25" cy="1054.5" r="2.1" fill="#fff" stroke="#c58cc8" stroke-width="2.3"/>
<circle cx="584.5" cy="1077.5" r="2.1" fill="#fff" stroke="#c58cc8" stroke-width="2.3"/>
<circle cx="588" cy="1080" r="2.1" fill="#fff" stroke="#c58cc8" stroke-width="2.3"/>
<circle cx="592" cy="1071.25" r="2.1" fill="#fff" stroke="#c58cc8" stroke-width="2.3"/>
<circle cx="597" cy="1040" r="2.1" fill="#fff" stroke="#c58cc8" stroke-width="2.3"/>
<circle cx="600.5" cy="1058" r="2.1" fill="#fff" stroke="#c58cc8" stroke-width="2.3"/>
<circle cx="605.5" cy="1049.5" r="2.1" fill="#fff" stroke="#c58cc8" stroke-width="2.3"/>
<circle cx="610" cy="1042" r="2.1" fill="#fff" stroke="#c58cc8" stroke-width="2.3"/>
<circle cx="614.5" cy="1053" r="2.1" fill="#fff" stroke="#c58cc8" stroke-width="2.3"/>
<circle cx="618.75" cy="1053" r="2.1" fill="#fff" stroke="#c58cc8" stroke-width="2.3"/>
<circle cx="623" cy="1073" r="2.1" fill="#fff" stroke="#c58cc8" stroke-width="2.3"/>
<circle cx="627.5" cy="1031.25" r="2.1" fill="#fff" stroke="#c58cc8" stroke-width="2.3"/>
<circle cx="632" cy="1060" r="2.1" fill="#fff" stroke="#c58cc8" stroke-width="2.3"/>
<circle cx="636.25" cy="1062.5" r="2.1" fill="#fff" stroke="#c58cc8" stroke-width="2.3"/>
<circle cx="641.25" cy="1060" r="2.1" fill="#fff" stroke="#c58cc8" stroke-width="2.3"/>
<circle cx="645" cy="1050.5" r="2.1" fill="#fff" stroke="#c58cc8" stroke-width="2.3"/>
<circle cx="649.5" cy="1048.75" r="2.1" fill="#fff" stroke="#c58cc8" stroke-width="2.3"/>
<circle cx="653.75" cy="1056.25" r="2.1" fill="#fff" stroke="#c58cc8" stroke-width="2.3"/>
<circle cx="658" cy="1052" r="2.1" fill="#fff" stroke="#c58cc8" stroke-width="2.3"/>
<circle cx="662.5" cy="1039.5" r="2.1" fill="#fff" stroke="#c58cc8" stroke-width="2.3"/>
<circle cx="667.5" cy="1004.5" r="2.1" fill="#fff" stroke="#c58cc8" stroke-width="2.3"/>
<circle cx="672" cy="1040" r="2.1" fill="#fff" stroke="#c58cc8" stroke-width="2.3"/>
<circle cx="675.5" cy="1013" r="2.1" fill="#fff" stroke="#c58cc8" stroke-width="2.3"/>
<circle cx="680" cy="1013" r="2.1" fill="#fff" stroke="#c58cc8" stroke-width="2.3"/>
<circle cx="683.75" cy="1000.5" r="2.1" fill="#fff" stroke="#c58cc8" stroke-width="2.3"/>
<circle cx="692.5" cy="1018" r="2.1" fill="#fff" stroke="#c58cc8" stroke-width="2.3"/>
<circle cx="700" cy="983.75" r="2.1" fill="#fff" stroke="#c58cc8" stroke-width="2.3"/>
<circle cx="707.5" cy="994.5" r="2.1" fill="#fff" stroke="#c58cc8" stroke-width="2.3"/>
<circle cx="715" cy="1028.25" r="2.1" fill="#fff" stroke="#c58cc8" stroke-width="2.3"/>
<polyline points="102,1025.50 120,1067 140.50,1025 158,1058 177.50,1056.25 196.25,1054.50 273,1044.50 292.50,1047.50 312,1050.50 330.50,1029.50 350,1052 367.50,1028.75 379.50,976.25 390,1034.50 401.25,1042 412,1015 423.75,1037.50 433.75,1023.75 446.25,1000.50 457.50,1042 468.25,968.75 478,1046.25 490,1042 500.50,1033.75 512,1028.25 522.50,1023.75 534.50,1025 545,1016.25 552.50,1074.50 559.50,1018.75 567,998 574.50,1008 582,979.50 589.50,979.50 607,1021.25 610,969.50 612.50,953 616.25,949.50 618.75,995.50 621.25,1007.50 625,1007.50 627.50,998 632,1010.50 634.50,1051.25 636.25,1039.50 638,1018 640,1032.50 642.50,1013 644.50,1007.50 646.25,1025 648,1039.50 650,1040 652,1007.50 653.75,1042 656.25,1032.50 658.75,1045.50 663,1056.25 666.25,1065.50 668,1044.50 673.75,1049.50 680.50,1045.50 683.75,1049.50 688,1044.50 691.25,1041.25 695.75,1029.50 698.25,1050.50 707.50,1032.50 710.50,1060.50 714.50,1041.25 718.75,1037 722,1059.50 726.25,1037.50 731.25,1037.50 735,1044.50 740,1044.50 744.50,1031.25 748.75,1016.25 753,1022 760,1028.50 763,1043 768,1017.50 771.25,1029.50 773.75,1049.50 777,1026.50 781.25,1023.50 784.50,1033 787,1014.75 790,1022.50 797.50,965.75 804.50,1006.25 810.50,997 818,1013.75 825.50,1027 831.25,1016.25 838.75,1000 846.25,991.25 859.25,973 866.75,978" fill="none" stroke="#5b1f80" stroke-width="2.1" stroke-linejoin="round" stroke-linecap="round" />
<circle cx="102" cy="1025.5" r="2.1" fill="#fff" stroke="#5b1f80" stroke-width="2.3"/>
<circle cx="120" cy="1067" r="2.1" fill="#fff" stroke="#5b1f80" stroke-width="2.3"/>
<circle cx="140.5" cy="1025" r="2.1" fill="#fff" stroke="#5b1f80" stroke-width="2.3"/>
<circle cx="158" cy="1058" r="2.1" fill="#fff" stroke="#5b1f80" stroke-width="2.3"/>
<circle cx="177.5" cy="1056.25" r="2.1" fill="#fff" stroke="#5b1f80" stroke-width="2.3"/>
<circle cx="196.25" cy="1054.5" r="2.1" fill="#fff" stroke="#5b1f80" stroke-width="2.3"/>
<circle cx="273" cy="1044.5" r="2.1" fill="#fff" stroke="#5b1f80" stroke-width="2.3"/>
<circle cx="292.5" cy="1047.5" r="2.1" fill="#fff" stroke="#5b1f80" stroke-width="2.3"/>
<circle cx="312" cy="1050.5" r="2.1" fill="#fff" stroke="#5b1f80" stroke-width="2.3"/>
<circle cx="330.5" cy="1029.5" r="2.1" fill="#fff" stroke="#5b1f80" stroke-width="2.3"/>
<circle cx="350" cy="1052" r="2.1" fill="#fff" stroke="#5b1f80" stroke-width="2.3"/>
<circle cx="367.5" cy="1028.75" r="2.1" fill="#fff" stroke="#5b1f80" stroke-width="2.3"/>
<circle cx="379.5" cy="976.25" r="2.1" fill="#fff" stroke="#5b1f80" stroke-width="2.3"/>
<circle cx="390" cy="1034.5" r="2.1" fill="#fff" stroke="#5b1f80" stroke-width="2.3"/>
<circle cx="401.25" cy="1042" r="2.1" fill="#fff" stroke="#5b1f80" stroke-width="2.3"/>
<circle cx="412" cy="1015" r="2.1" fill="#fff" stroke="#5b1f80" stroke-width="2.3"/>
<circle cx="423.75" cy="1037.5" r="2.1" fill="#fff" stroke="#5b1f80" stroke-width="2.3"/>
<circle cx="433.75" cy="1023.75" r="2.1" fill="#fff" stroke="#5b1f80" stroke-width="2.3"/>
<circle cx="446.25" cy="1000.5" r="2.1" fill="#fff" stroke="#5b1f80" stroke-width="2.3"/>
<circle cx="457.5" cy="1042" r="2.1" fill="#fff" stroke="#5b1f80" stroke-width="2.3"/>
<circle cx="468.25" cy="968.75" r="2.1" fill="#fff" stroke="#5b1f80" stroke-width="2.3"/>
<circle cx="478" cy="1046.25" r="2.1" fill="#fff" stroke="#5b1f80" stroke-width="2.3"/>
<circle cx="490" cy="1042" r="2.1" fill="#fff" stroke="#5b1f80" stroke-width="2.3"/>
<circle cx="500.5" cy="1033.75" r="2.1" fill="#fff" stroke="#5b1f80" stroke-width="2.3"/>
<circle cx="512" cy="1028.25" r="2.1" fill="#fff" stroke="#5b1f80" stroke-width="2.3"/>
<circle cx="522.5" cy="1023.75" r="2.1" fill="#fff" stroke="#5b1f80" stroke-width="2.3"/>
<circle cx="534.5" cy="1025" r="2.1" fill="#fff" stroke="#5b1f80" stroke-width="2.3"/>
<circle cx="545" cy="1016.25" r="2.1" fill="#fff" stroke="#5b1f80" stroke-width="2.3"/>
<circle cx="552.5" cy="1074.5" r="2.1" fill="#fff" stroke="#5b1f80" stroke-width="2.3"/>
<circle cx="559.5" cy="1018.75" r="2.1" fill="#fff" stroke="#5b1f80" stroke-width="2.3"/>
<circle cx="567" cy="998" r="2.1" fill="#fff" stroke="#5b1f80" stroke-width="2.3"/>
<circle cx="574.5" cy="1008" r="2.1" fill="#fff" stroke="#5b1f80" stroke-width="2.3"/>
<circle cx="582" cy="979.5" r="2.1" fill="#fff" stroke="#5b1f80" stroke-width="2.3"/>
<circle cx="589.5" cy="979.5" r="2.1" fill="#fff" stroke="#5b1f80" stroke-width="2.3"/>
<circle cx="607" cy="1021.25" r="2.1" fill="#fff" stroke="#5b1f80" stroke-width="2.3"/>
<circle cx="610" cy="969.5" r="2.1" fill="#fff" stroke="#5b1f80" stroke-width="2.3"/>
<circle cx="612.5" cy="953" r="2.1" fill="#fff" stroke="#5b1f80" stroke-width="2.3"/>
<circle cx="616.25" cy="949.5" r="2.1" fill="#fff" stroke="#5b1f80" stroke-width="2.3"/>
<circle cx="618.75" cy="995.5" r="2.1" fill="#fff" stroke="#5b1f80" stroke-width="2.3"/>
<circle cx="621.25" cy="1007.5" r="2.1" fill="#fff" stroke="#5b1f80" stroke-width="2.3"/>
<circle cx="625" cy="1007.5" r="2.1" fill="#fff" stroke="#5b1f80" stroke-width="2.3"/>
<circle cx="627.5" cy="998" r="2.1" fill="#fff" stroke="#5b1f80" stroke-width="2.3"/>
<circle cx="632" cy="1010.5" r="2.1" fill="#fff" stroke="#5b1f80" stroke-width="2.3"/>
<circle cx="634.5" cy="1051.25" r="2.1" fill="#fff" stroke="#5b1f80" stroke-width="2.3"/>
<circle cx="636.25" cy="1039.5" r="2.1" fill="#fff" stroke="#5b1f80" stroke-width="2.3"/>
<circle cx="638" cy="1018" r="2.1" fill="#fff" stroke="#5b1f80" stroke-width="2.3"/>
<circle cx="640" cy="1032.5" r="2.1" fill="#fff" stroke="#5b1f80" stroke-width="2.3"/>
<circle cx="642.5" cy="1013" r="2.1" fill="#fff" stroke="#5b1f80" stroke-width="2.3"/>
<circle cx="644.5" cy="1007.5" r="2.1" fill="#fff" stroke="#5b1f80" stroke-width="2.3"/>
<circle cx="646.25" cy="1025" r="2.1" fill="#fff" stroke="#5b1f80" stroke-width="2.3"/>
<circle cx="648" cy="1039.5" r="2.1" fill="#fff" stroke="#5b1f80" stroke-width="2.3"/>
<circle cx="650" cy="1040" r="2.1" fill="#fff" stroke="#5b1f80" stroke-width="2.3"/>
<circle cx="652" cy="1007.5" r="2.1" fill="#fff" stroke="#5b1f80" stroke-width="2.3"/>
<circle cx="653.75" cy="1042" r="2.1" fill="#fff" stroke="#5b1f80" stroke-width="2.3"/>
<circle cx="656.25" cy="1032.5" r="2.1" fill="#fff" stroke="#5b1f80" stroke-width="2.3"/>
<circle cx="658.75" cy="1045.5" r="2.1" fill="#fff" stroke="#5b1f80" stroke-width="2.3"/>
<circle cx="663" cy="1056.25" r="2.1" fill="#fff" stroke="#5b1f80" stroke-width="2.3"/>
<circle cx="666.25" cy="1065.5" r="2.1" fill="#fff" stroke="#5b1f80" stroke-width="2.3"/>
<circle cx="668" cy="1044.5" r="2.1" fill="#fff" stroke="#5b1f80" stroke-width="2.3"/>
<circle cx="673.75" cy="1049.5" r="2.1" fill="#fff" stroke="#5b1f80" stroke-width="2.3"/>
<circle cx="680.5" cy="1045.5" r="2.1" fill="#fff" stroke="#5b1f80" stroke-width="2.3"/>
<circle cx="683.75" cy="1049.5" r="2.1" fill="#fff" stroke="#5b1f80" stroke-width="2.3"/>
<circle cx="688" cy="1044.5" r="2.1" fill="#fff" stroke="#5b1f80" stroke-width="2.3"/>
<circle cx="691.25" cy="1041.25" r="2.1" fill="#fff" stroke="#5b1f80" stroke-width="2.3"/>
<circle cx="695.75" cy="1029.5" r="2.1" fill="#fff" stroke="#5b1f80" stroke-width="2.3"/>
<circle cx="698.25" cy="1050.5" r="2.1" fill="#fff" stroke="#5b1f80" stroke-width="2.3"/>
<circle cx="707.5" cy="1032.5" r="2.1" fill="#fff" stroke="#5b1f80" stroke-width="2.3"/>
<circle cx="710.5" cy="1060.5" r="2.1" fill="#fff" stroke="#5b1f80" stroke-width="2.3"/>
<circle cx="714.5" cy="1041.25" r="2.1" fill="#fff" stroke="#5b1f80" stroke-width="2.3"/>
<circle cx="718.75" cy="1037" r="2.1" fill="#fff" stroke="#5b1f80" stroke-width="2.3"/>
<circle cx="722" cy="1059.5" r="2.1" fill="#fff" stroke="#5b1f80" stroke-width="2.3"/>
<circle cx="726.25" cy="1037.5" r="2.1" fill="#fff" stroke="#5b1f80" stroke-width="2.3"/>
<circle cx="731.25" cy="1037.5" r="2.1" fill="#fff" stroke="#5b1f80" stroke-width="2.3"/>
<circle cx="735" cy="1044.5" r="2.1" fill="#fff" stroke="#5b1f80" stroke-width="2.3"/>
<circle cx="740" cy="1044.5" r="2.1" fill="#fff" stroke="#5b1f80" stroke-width="2.3"/>
<circle cx="744.5" cy="1031.25" r="2.1" fill="#fff" stroke="#5b1f80" stroke-width="2.3"/>
<circle cx="748.75" cy="1016.25" r="2.1" fill="#fff" stroke="#5b1f80" stroke-width="2.3"/>
<circle cx="753" cy="1022" r="2.1" fill="#fff" stroke="#5b1f80" stroke-width="2.3"/>
<circle cx="760" cy="1028.5" r="2.1" fill="#fff" stroke="#5b1f80" stroke-width="2.3"/>
<circle cx="763" cy="1043" r="2.1" fill="#fff" stroke="#5b1f80" stroke-width="2.3"/>
<circle cx="768" cy="1017.5" r="2.1" fill="#fff" stroke="#5b1f80" stroke-width="2.3"/>
<circle cx="771.25" cy="1029.5" r="2.1" fill="#fff" stroke="#5b1f80" stroke-width="2.3"/>
<circle cx="773.75" cy="1049.5" r="2.1" fill="#fff" stroke="#5b1f80" stroke-width="2.3"/>
<circle cx="777" cy="1026.5" r="2.1" fill="#fff" stroke="#5b1f80" stroke-width="2.3"/>
<circle cx="781.25" cy="1023.5" r="2.1" fill="#fff" stroke="#5b1f80" stroke-width="2.3"/>
<circle cx="784.5" cy="1033" r="2.1" fill="#fff" stroke="#5b1f80" stroke-width="2.3"/>
<circle cx="787" cy="1014.75" r="2.1" fill="#fff" stroke="#5b1f80" stroke-width="2.3"/>
<circle cx="790" cy="1022.5" r="2.1" fill="#fff" stroke="#5b1f80" stroke-width="2.3"/>
<circle cx="797.5" cy="965.75" r="2.1" fill="#fff" stroke="#5b1f80" stroke-width="2.3"/>
<circle cx="804.5" cy="1006.25" r="2.1" fill="#fff" stroke="#5b1f80" stroke-width="2.3"/>
<circle cx="810.5" cy="997" r="2.1" fill="#fff" stroke="#5b1f80" stroke-width="2.3"/>
<circle cx="818" cy="1013.75" r="2.1" fill="#fff" stroke="#5b1f80" stroke-width="2.3"/>
<circle cx="825.5" cy="1027" r="2.1" fill="#fff" stroke="#5b1f80" stroke-width="2.3"/>
<circle cx="831.25" cy="1016.25" r="2.1" fill="#fff" stroke="#5b1f80" stroke-width="2.3"/>
<circle cx="838.75" cy="1000" r="2.1" fill="#fff" stroke="#5b1f80" stroke-width="2.3"/>
<circle cx="846.25" cy="991.25" r="2.1" fill="#fff" stroke="#5b1f80" stroke-width="2.3"/>
<circle cx="859.25" cy="973" r="2.1" fill="#fff" stroke="#5b1f80" stroke-width="2.3"/>
<circle cx="866.75" cy="978" r="2.1" fill="#fff" stroke="#5b1f80" stroke-width="2.3"/>
<line x1="81.70" y1="1150.90" x2="81.70" y2="1405.10" stroke="#000" stroke-width="2.2" />
<line x1="933.00" y1="1150.90" x2="933.00" y2="1405.10" stroke="#000" stroke-width="2.2" />
<line x1="68.00" y1="1404.00" x2="81.70" y2="1404.00" stroke="#000" stroke-width="2.2" />
<line x1="933.00" y1="1404.00" x2="946.70" y2="1404.00" stroke="#000" stroke-width="2.2" />
<line x1="72.10" y1="1362.00" x2="81.70" y2="1362.00" stroke="#000" stroke-width="2.2" />
<line x1="933.00" y1="1362.00" x2="942.70" y2="1362.00" stroke="#000" stroke-width="2.2" />
<line x1="68.00" y1="1320.00" x2="81.70" y2="1320.00" stroke="#000" stroke-width="2.2" />
<line x1="933.00" y1="1320.00" x2="946.70" y2="1320.00" stroke="#000" stroke-width="2.2" />
<line x1="72.10" y1="1278.00" x2="81.70" y2="1278.00" stroke="#000" stroke-width="2.2" />
<line x1="933.00" y1="1278.00" x2="942.70" y2="1278.00" stroke="#000" stroke-width="2.2" />
<line x1="68.00" y1="1236.00" x2="81.70" y2="1236.00" stroke="#000" stroke-width="2.2" />
<line x1="933.00" y1="1236.00" x2="946.70" y2="1236.00" stroke="#000" stroke-width="2.2" />
<line x1="72.10" y1="1194.00" x2="81.70" y2="1194.00" stroke="#000" stroke-width="2.2" />
<line x1="933.00" y1="1194.00" x2="942.70" y2="1194.00" stroke="#000" stroke-width="2.2" />
<line x1="68.00" y1="1152.00" x2="81.70" y2="1152.00" stroke="#000" stroke-width="2.2" />
<line x1="933.00" y1="1152.00" x2="946.70" y2="1152.00" stroke="#000" stroke-width="2.2" />
<line x1="87.90" y1="1404.40" x2="927.50" y2="1404.40" stroke="#000" stroke-width="2.2" />
<text x="945.86" y="1161.43" font-size="28.60" stroke="#000" stroke-width="0.35">185</text>
<text x="943.36" y="1244.83" font-size="28.60" stroke="#000" stroke-width="0.35">184</text>
<text x="943.36" y="1330.43" font-size="28.60" stroke="#000" stroke-width="0.35">183</text>
<text x="946.46" y="1414.53" font-size="28.60" stroke="#000" stroke-width="0.35">182</text>
<text x="100.69" y="1182.34" font-size="42.50" fill="#231f20"   stroke="#231f20" stroke-width="0.35">e</text>
<text x="97.43" y="1330.91" font-size="27.46" fill="#b9252d"   stroke="#b9252d" stroke-width="0.35">Annual mean</text>
<text transform="translate(23.90,1373.04) rotate(-90)" font-size="27.44" fill="#000" stroke="#000" stroke-width="0.35" >Insolation 80°N</text>
<text transform="translate(54.50,1321.71) rotate(-90)" font-size="27.40" fill="#000" stroke="#000" stroke-width="0.35" >(W/m<tspan font-size="14.5" dy="-13.5">2</tspan><tspan dy="13.5">)</tspan></text>
<path d="M88 1302.5 C 250 1258, 380 1228, 475 1222.5 C 520 1220.5, 545 1222, 560 1224.5 C 700 1248, 800 1268, 926 1303" fill="none" stroke="#b9252d" stroke-width="4.4" stroke-dasharray="4.4 3.6"/>
<line x1="82.00" y1="1446.40" x2="82.00" y2="1702.10" stroke="#000" stroke-width="2.2" />
<line x1="933.00" y1="1446.40" x2="933.00" y2="1702.10" stroke="#000" stroke-width="2.2" />
<line x1="67.50" y1="1701.00" x2="82.00" y2="1701.00" stroke="#000" stroke-width="2.2" />
<line x1="933.00" y1="1701.00" x2="949.20" y2="1701.00" stroke="#000" stroke-width="2.2" />
<line x1="71.50" y1="1675.65" x2="82.00" y2="1675.65" stroke="#000" stroke-width="2.2" />
<line x1="933.00" y1="1675.65" x2="944.80" y2="1675.65" stroke="#000" stroke-width="2.2" />
<line x1="67.50" y1="1650.30" x2="82.00" y2="1650.30" stroke="#000" stroke-width="2.2" />
<line x1="933.00" y1="1650.30" x2="949.20" y2="1650.30" stroke="#000" stroke-width="2.2" />
<line x1="71.50" y1="1624.95" x2="82.00" y2="1624.95" stroke="#000" stroke-width="2.2" />
<line x1="933.00" y1="1624.95" x2="944.80" y2="1624.95" stroke="#000" stroke-width="2.2" />
<line x1="67.50" y1="1599.60" x2="82.00" y2="1599.60" stroke="#000" stroke-width="2.2" />
<line x1="933.00" y1="1599.60" x2="949.20" y2="1599.60" stroke="#000" stroke-width="2.2" />
<line x1="71.50" y1="1574.25" x2="82.00" y2="1574.25" stroke="#000" stroke-width="2.2" />
<line x1="933.00" y1="1574.25" x2="944.80" y2="1574.25" stroke="#000" stroke-width="2.2" />
<line x1="67.50" y1="1548.90" x2="82.00" y2="1548.90" stroke="#000" stroke-width="2.2" />
<line x1="933.00" y1="1548.90" x2="949.20" y2="1548.90" stroke="#000" stroke-width="2.2" />
<line x1="71.50" y1="1523.55" x2="82.00" y2="1523.55" stroke="#000" stroke-width="2.2" />
<line x1="933.00" y1="1523.55" x2="944.80" y2="1523.55" stroke="#000" stroke-width="2.2" />
<line x1="67.50" y1="1498.20" x2="82.00" y2="1498.20" stroke="#000" stroke-width="2.2" />
<line x1="933.00" y1="1498.20" x2="949.20" y2="1498.20" stroke="#000" stroke-width="2.2" />
<line x1="71.50" y1="1472.85" x2="82.00" y2="1472.85" stroke="#000" stroke-width="2.2" />
<line x1="933.00" y1="1472.85" x2="944.80" y2="1472.85" stroke="#000" stroke-width="2.2" />
<line x1="67.50" y1="1447.50" x2="82.00" y2="1447.50" stroke="#000" stroke-width="2.2" />
<line x1="933.00" y1="1447.50" x2="949.20" y2="1447.50" stroke="#000" stroke-width="2.2" />
<line x1="87.50" y1="1701.00" x2="926.80" y2="1701.00" stroke="#000" stroke-width="2.2" />
<text x="952.76" y="1457.83" font-size="28.60" stroke="#000" stroke-width="0.35">570</text>
<text x="952.76" y="1512.13" font-size="28.60" stroke="#000" stroke-width="0.35">540</text>
<text x="952.76" y="1562.63" font-size="28.60" stroke="#000" stroke-width="0.35">510</text>
<text x="953.26" y="1607.43" font-size="28.60" stroke="#000" stroke-width="0.35">480</text>
<text x="953.26" y="1660.53" font-size="28.60" stroke="#000" stroke-width="0.35">450</text>
<text x="953.26" y="1714.13" font-size="28.60" stroke="#000" stroke-width="0.35">420</text>
<text x="101.86" y="1480.71" font-size="42.50" fill="#231f20"   stroke="#231f20" stroke-width="0.35">f</text>
<text x="689.59" y="1479.21" font-size="27.46" fill="#03604a"   stroke="#03604a" stroke-width="0.35">June monthly mean</text>
<text x="693.71" y="1653.08" font-size="27.70" fill="#a8a338"   stroke="#a8a338" stroke-width="0.35">May monthly mean</text>
<text transform="translate(24.00,1667.01) rotate(-90)" font-size="27.14" fill="#000" stroke="#000" stroke-width="0.35" >Insolation 80°N</text>
<text transform="translate(54.90,1617.81) rotate(-90)" font-size="27.40" fill="#000" stroke="#000" stroke-width="0.35" >(W/m<tspan font-size="14.5" dy="-13.5">2</tspan><tspan dy="13.5">)</tspan></text>
<polyline points="87.50,1494.04 91.50,1494.23 95.50,1494.39 99.50,1494.54 103.50,1494.68 107.50,1494.80 111.50,1494.90 115.50,1494.99 119.50,1495.07 123.50,1495.13 127.50,1495.17 131.50,1495.20 135.50,1495.22 139.50,1495.22 143.50,1495.21 147.50,1495.18 151.50,1495.15 155.50,1495.09 159.50,1495.03 163.50,1494.95 167.50,1494.86 171.50,1494.75 175.50,1494.63 179.50,1494.50 183.50,1494.36 187.50,1494.21 191.50,1494.04 195.50,1493.86 199.50,1493.67 203.50,1493.47 207.50,1493.26 211.50,1493.03 215.50,1492.80 219.50,1492.55 223.50,1492.30 227.50,1492.03 231.50,1491.75 235.50,1491.46 239.50,1491.16 243.50,1490.85 247.50,1490.54 251.50,1490.21 255.50,1489.87 259.50,1489.53 263.50,1489.17 267.50,1488.80 271.50,1488.43 275.50,1488.05 279.50,1487.66 283.50,1487.26 287.50,1486.85 291.50,1486.44 295.50,1486.01 299.50,1485.58 303.50,1485.14 307.50,1484.70 311.50,1484.25 315.50,1483.79 319.50,1483.32 323.50,1482.85 327.50,1482.37 331.50,1481.89 335.50,1481.40 339.50,1480.91 343.50,1480.42 347.50,1479.92 351.50,1479.41 355.50,1478.90 359.50,1478.39 363.50,1477.88 367.50,1477.37 371.50,1476.85 375.50,1476.33 379.50,1475.81 383.50,1475.29 387.50,1474.76 391.50,1474.24 395.50,1473.72 399.50,1473.20 403.50,1472.67 407.50,1472.15 411.50,1471.63 415.50,1471.11 419.50,1470.60 423.50,1470.08 427.50,1469.57 431.50,1469.06 435.50,1468.55 439.50,1468.05 443.50,1467.55 447.50,1467.06 451.50,1466.56 455.50,1466.08 459.50,1465.60 463.50,1465.12 467.50,1464.65 471.50,1464.19 475.50,1463.73 479.50,1463.28 483.50,1462.84 487.50,1462.40 491.50,1461.97 495.50,1461.55 499.50,1461.14 503.50,1460.74 507.50,1460.34 511.50,1459.95 515.50,1459.58 519.50,1459.21 523.50,1458.84 527.50,1458.49 531.50,1458.15 535.50,1457.81 539.50,1457.48 543.50,1457.16 547.50,1456.84 551.50,1456.54 555.50,1456.24 559.50,1455.95 563.50,1455.66 567.50,1455.38 571.50,1455.11 575.50,1454.85 579.50,1454.60 583.50,1454.35 587.50,1454.10 591.50,1453.87 595.50,1453.64 599.50,1453.42 603.50,1453.20 607.50,1452.99 611.50,1452.79 615.50,1452.59 619.50,1452.40 623.50,1452.22 627.50,1452.04 631.50,1451.86 635.50,1451.70 639.50,1451.53 643.50,1451.38 647.50,1451.23 651.50,1451.08 655.50,1450.94 659.50,1450.80 663.50,1450.67 667.50,1450.55 671.50,1450.43 675.50,1450.31 679.50,1450.20 683.50,1450.09 687.50,1449.99 691.50,1449.90 695.50,1449.80 699.50,1449.71 703.50,1449.63 707.50,1449.55 711.50,1449.47 715.50,1449.40 719.50,1449.33 723.50,1449.27 727.50,1449.20 731.50,1449.15 735.50,1449.09 739.50,1449.04 743.50,1448.99 747.50,1448.95 751.50,1448.91 755.50,1448.87 759.50,1448.83 763.50,1448.80 767.50,1448.77 771.50,1448.74 775.50,1448.72 779.50,1448.69 783.50,1448.67 787.50,1448.66 791.50,1448.64 795.50,1448.63 799.50,1448.62 803.50,1448.61 807.50,1448.60 811.50,1448.59 815.50,1448.59 819.50,1448.58 823.50,1448.58 827.50,1448.58 831.50,1448.58 835.50,1448.59 839.50,1448.59 843.50,1448.59 847.50,1448.60 851.50,1448.61 855.50,1448.61 859.50,1448.62 863.50,1448.63 867.50,1448.64 871.50,1448.65 875.50,1448.66 879.50,1448.67 883.50,1448.68 887.50,1448.69 891.50,1448.69 895.50,1448.70 899.50,1448.71 903.50,1448.72 907.50,1448.73 911.50,1448.74 915.50,1448.75 919.50,1448.75 923.50,1448.76 927.50,1448.76 928,1448.76" fill="none" stroke="#03604a" stroke-width="3.8" stroke-linejoin="round" stroke-linecap="round" />
<polyline points="88,1691.36 92,1690.33 96,1689.33 100,1688.36 104,1687.41 108,1686.50 112,1685.61 116,1684.75 120,1683.92 124,1683.10 128,1682.32 132,1681.56 136,1680.82 140,1680.10 144,1679.41 148,1678.73 152,1678.08 156,1677.44 160,1676.83 164,1676.23 168,1675.65 172,1675.09 176,1674.54 180,1674.01 184,1673.49 188,1672.99 192,1672.50 196,1672.02 200,1671.56 204,1671.11 208,1670.66 212,1670.23 216,1669.81 220,1669.39 224,1668.99 228,1668.59 232,1668.19 236,1667.81 240,1667.42 244,1667.05 248,1666.67 252,1666.30 256,1665.93 260,1665.57 264,1665.20 268,1664.83 272,1664.47 276,1664.10 280,1663.73 284,1663.36 288,1662.98 292,1662.61 296,1662.23 300,1661.85 304,1661.47 308,1661.08 312,1660.69 316,1660.30 320,1659.91 324,1659.52 328,1659.12 332,1658.73 336,1658.33 340,1657.93 344,1657.52 348,1657.12 352,1656.71 356,1656.31 360,1655.90 364,1655.49 368,1655.08 372,1654.67 376,1654.25 380,1653.84 384,1653.42 388,1653 392,1652.59 396,1652.17 400,1651.75 404,1651.33 408,1650.90 412,1650.48 416,1650.06 420,1649.64 424,1649.21 428,1648.79 432,1648.36 436,1647.94 440,1647.51 444,1647.08 448,1646.66 452,1646.23 456,1645.80 460,1645.38 464,1644.95 468,1644.52 472,1644.09 476,1643.67 480,1643.24 484,1642.81 488,1642.39 492,1641.96 496,1641.54 500,1641.11 504,1640.69 508,1640.26 512,1639.84 516,1639.42 520,1639 524,1638.58 528,1638.16 532,1637.74 536,1637.32 540,1636.90 544,1636.49 548,1636.08 552,1635.66 556,1635.25 560,1634.84 564,1634.43 568,1634.03 572,1633.62 576,1633.22 580,1632.82 584,1632.42 588,1632.02 592,1631.63 596,1631.23 600,1630.84 604,1630.45 608,1630.07 612,1629.68 616,1629.30 620,1628.92 624,1628.54 628,1628.17 632,1627.80 636,1627.43 640,1627.06 644,1626.70 648,1626.34 652,1625.98 656,1625.63 660,1625.27 664,1624.93 668,1624.58 672,1624.24 676,1623.90 680,1623.57 684,1623.23 688,1622.91 692,1622.58 696,1622.26 700,1621.95 704,1621.63 708,1621.32 712,1621.02 716,1620.72 720,1620.42 724,1620.13 728,1619.84 732,1619.56 736,1619.28 740,1619 744,1618.73 748,1618.46 752,1618.20 756,1617.95 760,1617.69 764,1617.45 768,1617.20 772,1616.97 776,1616.73 780,1616.51 784,1616.28 788,1616.07 792,1615.86 796,1615.65 800,1615.45 804,1615.25 808,1615.06 812,1614.88 816,1614.70 820,1614.53 824,1614.36 828,1614.20 832,1614.04 836,1613.89 840,1613.75 844,1613.61 848,1613.48 852,1613.36 856,1613.24 860,1613.12 864,1613.02 868,1612.92 872,1612.83 876,1612.74 880,1612.66 884,1612.59 888,1612.52 892,1612.47 896,1612.41 900,1612.37 904,1612.33 908,1612.30 912,1612.28 916,1612.26 920,1612.25 924,1612.25 926.50,1612.26" fill="none" stroke="#a8a338" stroke-width="3.8" stroke-linejoin="round" stroke-linecap="round" />
<line x1="82.00" y1="1736.90" x2="82.00" y2="1944.10" stroke="#000" stroke-width="2.2" />
<line x1="933.30" y1="1736.90" x2="933.30" y2="1944.10" stroke="#000" stroke-width="2.2" />
<line x1="66.00" y1="1738.00" x2="82.00" y2="1738.00" stroke="#000" stroke-width="2.2" />
<line x1="933.30" y1="1738.00" x2="950.20" y2="1738.00" stroke="#000" stroke-width="2.2" />
<line x1="70.40" y1="1779.40" x2="82.00" y2="1779.40" stroke="#000" stroke-width="2.2" />
<line x1="933.30" y1="1779.40" x2="945.30" y2="1779.40" stroke="#000" stroke-width="2.2" />
<line x1="66.00" y1="1820.50" x2="82.00" y2="1820.50" stroke="#000" stroke-width="2.2" />
<line x1="933.30" y1="1820.50" x2="950.20" y2="1820.50" stroke="#000" stroke-width="2.2" />
<line x1="70.40" y1="1861.80" x2="82.00" y2="1861.80" stroke="#000" stroke-width="2.2" />
<line x1="933.30" y1="1861.80" x2="945.30" y2="1861.80" stroke="#000" stroke-width="2.2" />
<line x1="66.00" y1="1902.90" x2="82.00" y2="1902.90" stroke="#000" stroke-width="2.2" />
<line x1="933.30" y1="1902.90" x2="950.20" y2="1902.90" stroke="#000" stroke-width="2.2" />
<line x1="70.40" y1="1943.00" x2="82.00" y2="1943.00" stroke="#000" stroke-width="2.2" />
<line x1="933.30" y1="1943.00" x2="945.30" y2="1943.00" stroke="#000" stroke-width="2.2" />
<text x="952.97" y="1747.83" font-size="28.60" stroke="#000" stroke-width="0.35">2.0</text>
<text x="952.25" y="1829.39" font-size="28.60" stroke="#000" stroke-width="0.35">1.5</text>
<text x="952.25" y="1909.23" font-size="28.60" stroke="#000" stroke-width="0.35">1.0</text>
<text x="100.19" y="1768.84" font-size="42.50" fill="#231f20"   stroke="#231f20" stroke-width="0.35">g</text>
<text x="97.43" y="1918.49" font-size="27.44" fill="#e32b60"   stroke="#e32b60" stroke-width="0.35">Annual mean</text>
<text transform="translate(23.90,1948.13) rotate(-90)" font-size="27.41" fill="#000" stroke="#000" stroke-width="0.35" >Sea ice thickness</text>
<text transform="translate(54.60,1944.47) rotate(-90)" font-size="27.52" fill="#000" stroke="#000" stroke-width="0.35" >Arctic Ocean (m)</text>
<polyline points="88,1744 88,1790 88.50,1810 89.50,1828 91,1840 93.50,1851 97,1859 101,1864.50 106,1868 115,1871 125,1874.50 140,1879.50 160,1884.50 200,1887.50 250,1893.50 300,1900 350,1904 400,1906 450,1905 500,1902.50 600,1900 700,1899.50 740,1898 752,1895 760,1891 765,1886 768,1878 770,1860 771.50,1815 772.50,1780 773.30,1773 774.50,1771.50 776,1773.50 778,1778.50 780.50,1784 783,1787.50 786,1788.50 827.50,1772.50 828.50,1756 838,1755 845,1753.50 850,1751.50 856,1748.50 862,1747 880,1745 905,1741.50 927.50,1737" fill="none" stroke="#e32b60" stroke-width="3.8" stroke-linejoin="round" stroke-linecap="round" />
<line x1="82.00" y1="1963.40" x2="82.00" y2="2155.60" stroke="#000" stroke-width="2.2" />
<line x1="933.30" y1="1963.40" x2="933.30" y2="2155.60" stroke="#000" stroke-width="2.2" />
<line x1="68.00" y1="1964.50" x2="82.00" y2="1964.50" stroke="#000" stroke-width="2.2" />
<line x1="933.30" y1="1964.50" x2="947.00" y2="1964.50" stroke="#000" stroke-width="2.2" />
<line x1="68.00" y1="2011.20" x2="82.00" y2="2011.20" stroke="#000" stroke-width="2.2" />
<line x1="933.30" y1="2011.20" x2="947.00" y2="2011.20" stroke="#000" stroke-width="2.2" />
<line x1="68.00" y1="2059.00" x2="82.00" y2="2059.00" stroke="#000" stroke-width="2.2" />
<line x1="933.30" y1="2059.00" x2="947.00" y2="2059.00" stroke="#000" stroke-width="2.2" />
<line x1="68.00" y1="2106.20" x2="82.00" y2="2106.20" stroke="#000" stroke-width="2.2" />
<line x1="933.30" y1="2106.20" x2="947.00" y2="2106.20" stroke="#000" stroke-width="2.2" />
<line x1="68.00" y1="2154.50" x2="82.00" y2="2154.50" stroke="#000" stroke-width="2.2" />
<line x1="933.30" y1="2154.50" x2="947.00" y2="2154.50" stroke="#000" stroke-width="2.2" />
<text x="953.26" y="1974.03" font-size="28.60" stroke="#000" stroke-width="0.35">0</text>
<text x="952.46" y="2067.73" font-size="28.60" stroke="#000" stroke-width="0.35">50</text>
<text x="953.86" y="2160.33" font-size="28.60" stroke="#000" stroke-width="0.35">100</text>
<polygon points="88,1975 332.50,1975 447.50,2014.50 762.40,2137.80 768,2139.40 925,2155.50 769,2148.50 762.40,2146 460,2052 325,2023 88,2023" fill="#c5e4dc" stroke="#02906f" stroke-width="2.4" stroke-linejoin="round"/>
<text x="99.03" y="1995.81" font-size="42.50" fill="#231f20"  stroke="#fff" stroke-width="3" paint-order="stroke">h</text>
<text transform="translate(25.90,2160.54) rotate(-90)" font-size="27.47" fill="#000" stroke="#000" stroke-width="0.35" >Svalbard glacier</text>
<text transform="translate(56.80,2120.47) rotate(-90)" font-size="27.50" fill="#000" stroke="#000" stroke-width="0.35" >cover (%)</text>
<line x1="85.60" y1="2173.00" x2="924.50" y2="2173.00" stroke="#2b2b2b" stroke-width="2.2" />
<line x1="86.00" y1="2172.00" x2="86.00" y2="2187.50" stroke="#2b2b2b" stroke-width="2.2" />
<line x1="145.86" y1="2172.00" x2="145.86" y2="2183.50" stroke="#2b2b2b" stroke-width="2.2" />
<line x1="205.72" y1="2172.00" x2="205.72" y2="2187.50" stroke="#2b2b2b" stroke-width="2.2" />
<line x1="265.58" y1="2172.00" x2="265.58" y2="2183.50" stroke="#2b2b2b" stroke-width="2.2" />
<line x1="325.44" y1="2172.00" x2="325.44" y2="2187.50" stroke="#2b2b2b" stroke-width="2.2" />
<line x1="385.30" y1="2172.00" x2="385.30" y2="2183.50" stroke="#2b2b2b" stroke-width="2.2" />
<line x1="445.16" y1="2172.00" x2="445.16" y2="2187.50" stroke="#2b2b2b" stroke-width="2.2" />
<line x1="505.02" y1="2172.00" x2="505.02" y2="2183.50" stroke="#2b2b2b" stroke-width="2.2" />
<line x1="564.88" y1="2172.00" x2="564.88" y2="2187.50" stroke="#2b2b2b" stroke-width="2.2" />
<line x1="624.74" y1="2172.00" x2="624.74" y2="2183.50" stroke="#2b2b2b" stroke-width="2.2" />
<line x1="684.60" y1="2172.00" x2="684.60" y2="2187.50" stroke="#2b2b2b" stroke-width="2.2" />
<line x1="744.46" y1="2172.00" x2="744.46" y2="2183.50" stroke="#2b2b2b" stroke-width="2.2" />
<line x1="804.32" y1="2172.00" x2="804.32" y2="2187.50" stroke="#2b2b2b" stroke-width="2.2" />
<line x1="864.18" y1="2172.00" x2="864.18" y2="2183.50" stroke="#2b2b2b" stroke-width="2.2" />
<line x1="924.04" y1="2172.00" x2="924.04" y2="2187.50" stroke="#2b2b2b" stroke-width="2.2" />
<text x="64.58" y="2219.64" font-size="28.30" fill="#000"   stroke="#000" stroke-width="0.35">6.0</text>
<text x="192.09" y="2219.64" font-size="28.30" fill="#000"   stroke="#000" stroke-width="0.35">7.0</text>
<text x="313.20" y="2219.64" font-size="28.30" fill="#000"   stroke="#000" stroke-width="0.35">8.0</text>
<text x="433.06" y="2219.64" font-size="28.30" fill="#000"   stroke="#000" stroke-width="0.35">9.0</text>
<text x="547.08" y="2219.64" font-size="28.30" fill="#000"   stroke="#000" stroke-width="0.35">10.0</text>
<text x="665.98" y="2219.64" font-size="28.30" fill="#000"   stroke="#000" stroke-width="0.35">11.0</text>
<text x="785.68" y="2219.64" font-size="28.30" fill="#000"   stroke="#000" stroke-width="0.35">12.0</text>
<text x="904.08" y="2219.64" font-size="28.30" fill="#000"   stroke="#000" stroke-width="0.35">13.0</text>
<text x="407.43" y="2250.56" font-size="29.05" fill="#000"   stroke="#000" stroke-width="0.35">Age (cal ka BP)</text>
<text x="768.96" y="2247.11" font-size="28.53" fill="#8c8c8c"   stroke="#8c8c8c" stroke-width="0.35">Younger Dryas</text>
<line x1="762.60" y1="11.00" x2="762.60" y2="2257.00" stroke="#87888c" stroke-width="2.8" stroke-dasharray="5.9 2.996"/>
</svg>
</body></html>
